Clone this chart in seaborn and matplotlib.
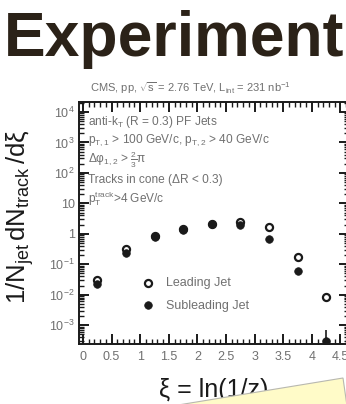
import numpy as np
import pandas as pd
import matplotlib
matplotlib.use("Agg")
import matplotlib.pyplot as plt
import matplotlib.ticker as mticker
from matplotlib.patches import Polygon
import seaborn as sns

sns.set_theme(style="ticks")
plt.rcParams["font.family"] = ["Liberation Sans", "DejaVu Sans"]
plt.rcParams["mathtext.fontset"] = "custom"
plt.rcParams["mathtext.rm"] = "Liberation Sans"
plt.rcParams["mathtext.it"] = "Liberation Sans:italic"
plt.rcParams["mathtext.bf"] = "Liberation Sans:bold"

# Fragmentation function values (xi = ln(1/z) bin centres)
xi = [0.25, 0.75, 1.25, 1.75, 2.25, 2.75, 3.25, 3.75, 4.25]
leading = [0.031, 0.32, 0.85, 1.40, 2.10, 2.50, 1.70, 0.17, 0.0085]
subleading = [0.023, 0.24, 0.78, 1.35, 2.05, 2.00, 0.68, 0.060, 0.0003]
sub_err_low = [0, 0, 0, 0, 0, 0, 0, 0, 0.00025]
sub_err_high = [0, 0, 0, 0, 0, 0, 0, 0, 0.0004]

series_names = ["Leading Jet", "Subleading Jet"]
ytick_vals = [1e-3, 1e-2, 1e-1, 1, 10, 1e2, 1e3, 1e4]
ytick_text = [r"10$^{-3}$", r"10$^{-2}$", r"10$^{-1}$", "1", "10",
              r"10$^{2}$", r"10$^{3}$", r"10$^{4}$"]
xtick_vals = [0, 0.5, 1, 1.5, 2, 2.5, 3, 3.5, 4, 4.5]
xtick_text = ["0", "0.5", "1", "1.5", "2", "2.5", "3", "3.5", "4", "4.5"]

df = pd.DataFrame({
    "xi": xi * 2,
    "val": leading + subleading,
    "jet": [series_names[0]] * len(xi) + [series_names[1]] * len(xi),
})

W, H = 346, 404
fig = plt.figure(figsize=(W / 100, H / 100), dpi=100)
fig.patch.set_facecolor("white")

def fx(px):
    return px / W

def fy(py):
    return 1 - py / H

ax = fig.add_axes([fx(79), fy(344), fx(349) - fx(79), fy(102) - fy(344)])
ax.set_facecolor("white")

ink = "#1a1a1a"
grey = "#707070"

lead_df = df[df["jet"] == series_names[0]]
sub_df = df[df["jet"] == series_names[1]]
sns.scatterplot(data=lead_df, x="xi", y="val", ax=ax, marker="o", s=26,
                facecolor="white", edgecolor=ink, linewidth=1.6,
                label=series_names[0], zorder=4)
sns.scatterplot(data=sub_df, x="xi", y="val", ax=ax, marker="o", s=30,
                color=ink, edgecolor=ink, linewidth=0.5,
                label=series_names[1], zorder=5)
ax.errorbar(xi, subleading, yerr=[sub_err_low, sub_err_high], fmt="none",
            ecolor=ink, elinewidth=1.2, capsize=0, zorder=3)

ax.set_yscale("log")
ax.set_xlim(-0.07, 4.65)
ax.set_ylim(10 ** -3.62, 10 ** 4.33)

ax.set_yticks(ytick_vals)
ax.set_yticklabels(ytick_text)
ax.yaxis.set_minor_locator(mticker.LogLocator(base=10, subs=np.arange(2, 10), numticks=20))
ax.yaxis.set_minor_formatter(mticker.NullFormatter())
ax.set_xticks(xtick_vals)
ax.set_xticklabels(xtick_text)
ax.xaxis.set_minor_locator(mticker.MultipleLocator(0.1))

ax.tick_params(axis="both", which="major", direction="in", length=7, width=1.4,
               top=True, right=True, colors=ink, labelcolor=grey, labelsize=9)
ax.tick_params(axis="both", which="minor", direction="in", length=3.5, width=1.0,
               top=True, right=True, colors=ink)
ax.tick_params(axis="x", which="major", pad=5)
ax.tick_params(axis="y", which="major", pad=3)
for sp in ax.spines.values():
    sp.set_color(ink)
    sp.set_linewidth(1.4)

ax.set_xlabel("ξ = ln(1/z)", fontsize=18, color=ink, labelpad=11)
ax.set_ylabel(r"1/N$_{\rm jet}\,$dN$_{\rm track}\,$/dξ", fontsize=18.5, color=ink, labelpad=0)
ax.yaxis.set_label_coords(-0.158, 0.525)

# Selection text inside the frame
tr = matplotlib.transforms.blended_transform_factory(ax.transAxes, ax.transData)
lines = [
    (10 ** 3.68, r"anti-k$_{\rm T}$ (R = 0.3) PF Jets"),
    (10 ** 3.09, r"p$_{\rm T,1}$ > 100 GeV/c, p$_{\rm T,2}$ > 40 GeV/c"),
    (10 ** 2.43, r"Δφ$_{\rm 1,2}$ > $\frac{2}{3}$π"),
    (10 ** 1.78, r"Tracks in cone (ΔR < 0.3)"),
    (10 ** 1.15, r"p$_{\rm T}^{\rm track}$>4 GeV/c"),
]
for yv, txt in lines:
    ax.text(0.032, yv, txt, transform=tr, fontsize=8.6, color=grey, va="center", ha="left")

fig.text(fx(191), fy(88), r"CMS, pp, $\sqrt{\rm s}$ = 2.76 TeV, L$_{\rm int}$ = 231 nb$^{-1}$",
         fontsize=8, color=grey, ha="center", va="center")

leg = ax.legend(loc="upper left", frameon=False, fontsize=9, labelcolor=grey,
                handletextpad=0.9, labelspacing=0.85, borderaxespad=0, handlelength=1.0)
leg.set_bbox_to_anchor(((137 - 79) / 270, (344 - 272) / 242), transform=ax.transAxes)

# Title
fig.text(fx(4), fy(56), "Experiment", fontsize=45, fontweight="bold",
         color="#2b2218", ha="left", va="baseline")

# Sticky note in the lower-right corner
note = Polygon([[fx(172), fy(406)], [fx(343), fy(378)], [fx(347), fy(406)]],
               closed=True, transform=fig.transFigure, facecolor="#fffbc8",
               edgecolor="#b8b8b0", linewidth=0.8, zorder=10)
fig.patches.append(note)

fig.savefig("out.png", dpi=100, facecolor="white")
